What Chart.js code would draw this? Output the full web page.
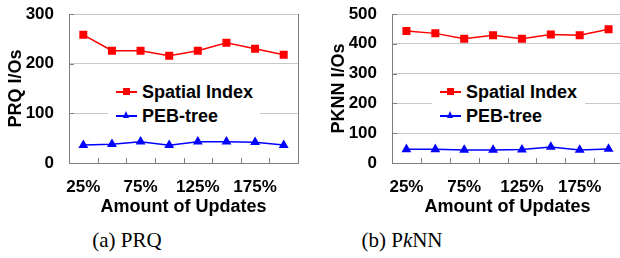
<!DOCTYPE html>
<html>
<head>
<meta charset="utf-8">
<script src="https://cdn.jsdelivr.net/npm/chart.js@4.4.1/dist/chart.umd.min.js"></script>
<style>
  html, body { margin: 0; padding: 0; background: #fff; overflow: hidden; width: 620px; height: 258px; }
  .panel { position: absolute; top: 0; height: 222px; }
  #left { left: 0; width: 310px; }
  #right { left: 310px; width: 330px; }
  .legend { position: absolute; background: #fff; height: 48px; font: bold 18px "Liberation Sans", Arial, sans-serif; color: #000; }
  .legend .row { position: absolute; left: 8px; height: 20px; line-height: 20px; white-space: nowrap; }
  .legend .line { position: absolute; left: 0; top: 9px; width: 21px; height: 1.5px; }
  .legend .mark { position: absolute; }
  .legend .txt { position: absolute; left: 26px; top: 0; }
  .caption { position: absolute; top: 229px; width: 160px; text-align: center; font: 21px "Liberation Serif", "Times New Roman", serif; line-height: 22px; color: #000; }
</style>
</head>
<body>
<div class="panel" id="left"><canvas id="prqChart"></canvas></div>
<div class="panel" id="right"><canvas id="knnChart"></canvas></div>
<div class="legend" id="prqLegend" style="left:108px; top:80px; width:152px;"></div>
<div class="legend" id="knnLegend" style="left:432px; top:80px; width:153px;"></div>
<div class="caption" style="left:47px;">(a) PRQ</div>
<div class="caption" style="left:322px;">(b) P<i>k</i>NN</div>
<script>
// Data
const updates = ['25%', '50%', '75%', '100%', '125%', '150%', '175%', '200%'];
const seriesNames = ['Spatial Index', 'PEB-tree'];
const prqSpatial = [258, 226, 226, 216, 226, 242, 230, 218];
const prqPeb = [36, 38, 43, 36, 43, 43, 42, 36];
const knnSpatial = [443, 435, 417, 429, 417, 431, 429, 449];
const knnPeb = [46, 46, 44, 44, 45, 54, 44, 47];

const FONT = '"Liberation Sans", Arial, sans-serif';

// inward tick marks and right frame line, like the original plot area
const frameTicks = {
    id: 'frameTicks',
    afterDraw(chart) {
        const ctx = chart.ctx;
        const a = chart.chartArea;
        const x = chart.scales.x;
        const y = chart.scales.y;
        ctx.save();
        ctx.strokeStyle = '#7f7f7f';
        ctx.lineWidth = 1;
        ctx.beginPath();
        ctx.moveTo(Math.round(a.right) + 0.5, a.top);
        ctx.lineTo(Math.round(a.right) + 0.5, a.bottom);
        y.ticks.forEach(t => {
            const py = Math.round(y.getPixelForValue(t.value)) + 0.5;
            ctx.moveTo(a.left, py);
            ctx.lineTo(a.left + 5, py);
        });
        const band = x.getPixelForValue(1) - x.getPixelForValue(0);
        for (let i = 1; i < updates.length; i++) {
            const px = Math.round(x.getPixelForValue(i) - band / 2) + 0.5;
            ctx.moveTo(px, a.bottom);
            ctx.lineTo(px, a.bottom - 5);
        }
        ctx.stroke();
        ctx.restore();
    }
};

function makeChart(id, spatial, peb, yMax, yTitle, axisWidth, titlePad, rightPad) {
    const ctx = document.getElementById(id).getContext('2d');
    return new Chart(ctx, {
        type: 'line',
        data: {
            labels: updates,
            datasets: [{
                label: seriesNames[0],
                data: spatial,
                borderColor: '#ff0000',
                backgroundColor: '#ff0000',
                borderWidth: 1.5,
                pointStyle: 'rect',
                pointRadius: 4.6,
                tension: 0
            }, {
                label: seriesNames[1],
                data: peb,
                borderColor: '#0000ff',
                backgroundColor: '#0000ff',
                borderWidth: 1.5,
                pointStyle: 'triangle',
                pointRadius: 4.2,
                tension: 0
            }]
        },
        options: {
            responsive: true,
            maintainAspectRatio: false,
            animation: false,
            devicePixelRatio: 1,
            layout: { padding: { top: 14, right: rightPad, bottom: 0, left: 0 } },
            plugins: { legend: { display: false }, tooltip: { enabled: false } },
            scales: {
                x: {
                    offset: true,
                    grid: { display: false, drawTicks: false },
                    border: { color: '#7f7f7f', width: 1 },
                    ticks: {
                        autoSkip: false,
                        maxRotation: 0,
                        padding: 14,
                        color: '#000',
                        font: { family: FONT, size: 17, weight: 'bold' },
                        callback: (v, i) => (i % 2 === 0 ? updates[i] : '')
                    },
                    title: {
                        display: true,
                        text: 'Amount of Updates',
                        color: '#000',
                        font: { family: FONT, size: 18, weight: 'bold' },
                        padding: { top: 0, bottom: 4 }
                    },
                    afterFit: s => {
                        s.height = 59;
                        s.paddingLeft = 0;
                        s.paddingRight = 0;
                    }
                },
                y: {
                    min: 0,
                    max: yMax,
                    grid: { color: '#c8c8c8', drawTicks: false },
                    border: { color: '#7f7f7f', width: 1 },
                    ticks: {
                        stepSize: 100,
                        padding: 15,
                        color: '#000',
                        font: { family: FONT, size: 17, weight: 'bold' }
                    },
                    title: {
                        display: true,
                        text: yTitle,
                        color: '#000',
                        font: { family: FONT, size: 18, weight: 'bold' },
                        padding: { top: titlePad, bottom: 0 }
                    },
                    afterFit: s => {
                        s.width = axisWidth;
                        s.paddingTop = 0;
                        s.paddingBottom = 0;
                    }
                }
            }
        },
        plugins: [frameTicks]
    });
}

// legend boxes built from the chart datasets
function buildLegend(chart, boxId) {
    const box = document.getElementById(boxId);
    chart.data.datasets.forEach((ds, i) => {
        const row = document.createElement('div');
        row.className = 'row';
        row.style.top = (2 + i * 24) + 'px';
        const line = document.createElement('div');
        line.className = 'line';
        line.style.background = ds.borderColor;
        const mark = document.createElement('div');
        mark.className = 'mark';
        if (ds.pointStyle === 'rect') {
            mark.style.cssText = 'left:7px;top:6px;width:7px;height:7px;background:' + ds.backgroundColor;
        } else {
            mark.style.cssText = 'left:7px;top:5px;width:0;height:0;border-left:3.5px solid transparent;border-right:3.5px solid transparent;border-bottom:7px solid ' + ds.backgroundColor;
        }
        const txt = document.createElement('span');
        txt.className = 'txt';
        txt.textContent = ds.label;
        row.appendChild(line);
        row.appendChild(mark);
        row.appendChild(txt);
        box.appendChild(row);
    });
}

const prqChart = makeChart('prqChart', prqSpatial, prqPeb, 300, 'PRQ I/Os', 69, 5, 12);
const knnChart = makeChart('knnChart', knnSpatial, knnPeb, 500, 'PKNN I/Os', 82, 18, 17);
buildLegend(prqChart, 'prqLegend');
buildLegend(knnChart, 'knnLegend');
</script>
</body>
</html>
